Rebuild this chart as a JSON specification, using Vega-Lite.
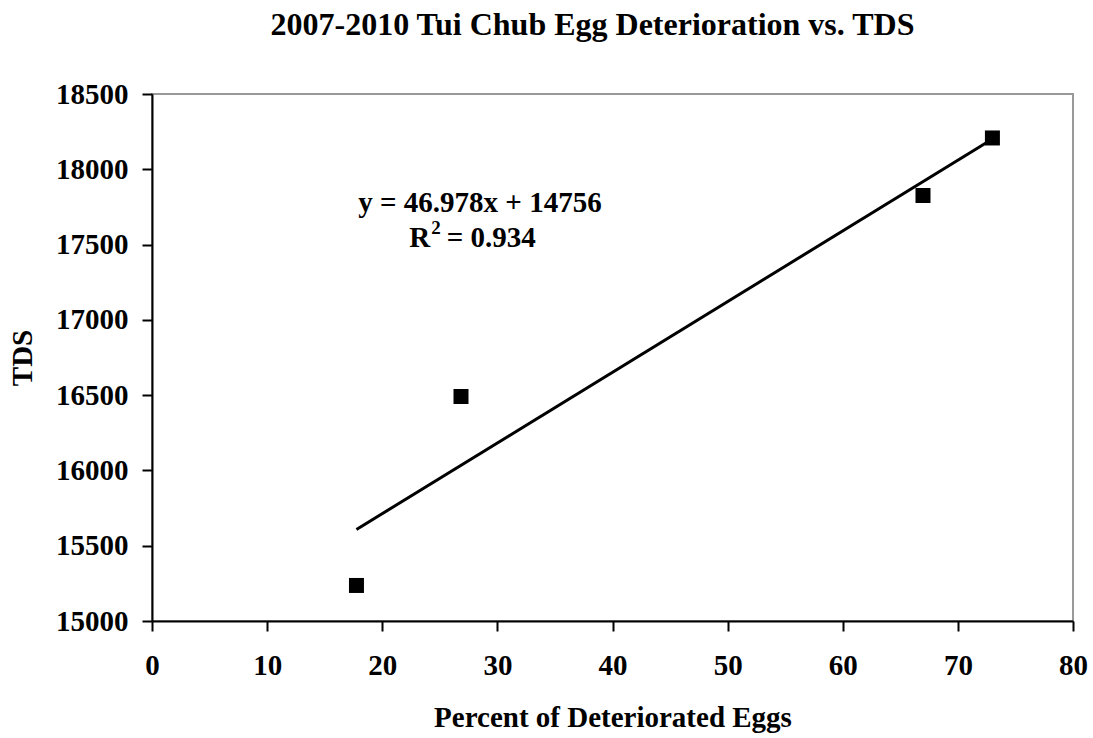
{
  "$schema": "https://vega.github.io/schema/vega-lite/v6.json",
  "width": 921,
  "height": 527,
  "autosize": "none",
  "padding": {"left": 152, "top": 94, "right": 20, "bottom": 117},
  "background": "white",
  "title": {
    "text": "2007-2010 Tui Chub Egg Deterioration vs. TDS",
    "font": "Liberation Serif",
    "fontSize": 32,
    "fontWeight": "bold",
    "color": "black",
    "anchor": "middle",
    "frame": "group",
    "baseline": "bottom",
    "offset": 6,
    "dx": -20
  },
  "data": {
    "values": [
      {"pct": 17.76, "tds": 15236},
      {"pct": 26.84, "tds": 16491},
      {"pct": 66.97, "tds": 17826},
      {"pct": 73.0, "tds": 18208}
    ]
  },
  "layer": [
    {
      "transform": [{"regression": "tds", "on": "pct"}],
      "mark": {"type": "line", "color": "black", "strokeWidth": 3},
      "encoding": {
        "x": {"field": "pct", "type": "quantitative"},
        "y": {"field": "tds", "type": "quantitative"}
      }
    },
    {
      "mark": {"type": "point", "shape": "square", "filled": true, "color": "black", "size": 225, "opacity": 1},
      "encoding": {
        "x": {
          "field": "pct",
          "type": "quantitative",
          "scale": {"domain": [0, 80], "nice": false, "zero": false},
          "axis": {"values": [0, 10, 20, 30, 40, 50, 60, 70, 80], "title": "Percent of Deteriorated Eggs", "labelPadding": 20, "titlePadding": 23}
        },
        "y": {
          "field": "tds",
          "type": "quantitative",
          "scale": {"domain": [15000, 18500], "nice": false, "zero": false},
          "axis": {"values": [15000, 15500, 16000, 16500, 17000, 17500, 18000, 18500], "title": "TDS", "labelPadding": 14, "titlePadding": 18}
        }
      }
    },
    {
      "data": {"values": [{"label": "y = 46.978x + 14756"}]},
      "mark": {"type": "text", "font": "Liberation Serif", "fontSize": 29, "fontWeight": "bold", "color": "black", "align": "center", "baseline": "alphabetic"},
      "encoding": {
        "x": {"datum": 28.49, "type": "quantitative"},
        "y": {"datum": 17716, "type": "quantitative"},
        "text": {"field": "label"}
      }
    },
    {
      "data": {"values": [{"label": "R"}]},
      "mark": {"type": "text", "font": "Liberation Serif", "fontSize": 29, "fontWeight": "bold", "color": "black", "align": "left", "baseline": "alphabetic"},
      "encoding": {
        "x": {"datum": 22.35, "type": "quantitative"},
        "y": {"datum": 17484, "type": "quantitative"},
        "text": {"field": "label"}
      }
    },
    {
      "data": {"values": [{"label": "2"}]},
      "mark": {"type": "text", "font": "Liberation Serif", "fontSize": 19, "fontWeight": "bold", "color": "black", "align": "left", "baseline": "alphabetic"},
      "encoding": {
        "x": {"datum": 24.26, "type": "quantitative"},
        "y": {"datum": 17570, "type": "quantitative"},
        "text": {"field": "label"}
      }
    },
    {
      "data": {"values": [{"label": "= 0.934"}]},
      "mark": {"type": "text", "font": "Liberation Serif", "fontSize": 29, "fontWeight": "bold", "color": "black", "align": "left", "baseline": "alphabetic"},
      "encoding": {
        "x": {"datum": 25.6, "type": "quantitative"},
        "y": {"datum": 17484, "type": "quantitative"},
        "text": {"field": "label"}
      }
    }
  ],
  "config": {
    "view": {"stroke": "#999999", "strokeWidth": 2},
    "axis": {
      "grid": false,
      "domainColor": "black",
      "domainWidth": 2,
      "tickColor": "black",
      "tickWidth": 2,
      "tickSize": 10,
      "labelFont": "Liberation Serif",
      "labelFontSize": 29,
      "labelFontWeight": "bold",
      "labelColor": "black",
      "labelFlush": false,
      "labelOverlap": false,
      "format": "d",
      "titleFont": "Liberation Serif",
      "titleFontSize": 29,
      "titleFontWeight": "bold",
      "titleColor": "black",
      "zindex": 1
    }
  }
}
